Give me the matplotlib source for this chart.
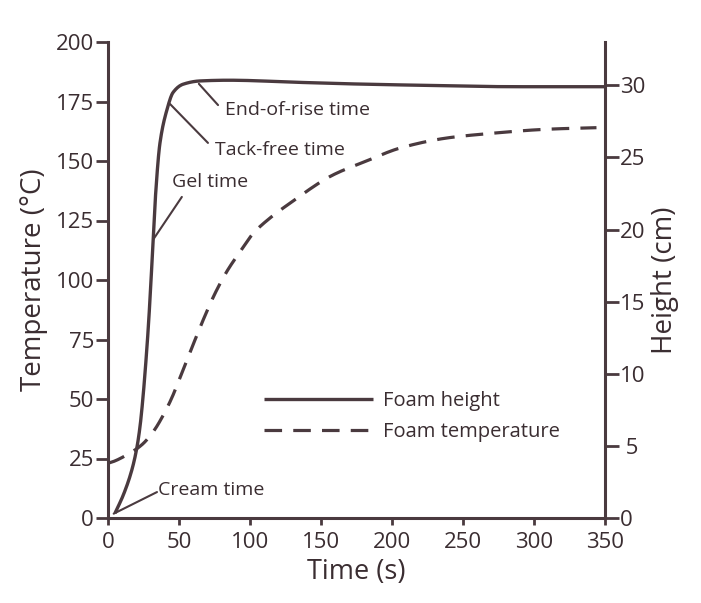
import matplotlib
matplotlib.use("Agg")
import matplotlib.pyplot as plt
import numpy as np

plt.rcParams['font.family'] = ['Open Sans', 'DejaVu Sans']

# Foam height (cm) vs time (s)
height_t = [4.9, 10.8, 16.7, 20.2, 22.5, 24.4, 26.5, 28.5, 30.2, 31.8, 33.5, 36.6, 41.5, 45.8, 52.8, 64.8, 85, 135, 170, 220, 288, 351]
height_cm = [0.33, 1.6, 3.3, 4.8, 6.3, 8.1, 10.6, 13.4, 16.3, 19.3, 22.4, 26.0, 28.3, 29.5, 30.07, 30.3, 30.35, 30.2, 30.1, 30.0, 29.9, 29.9]

# Foam temperature (°C) vs time (s)
temp_t = [0, 3.7, 13.2, 23.7, 31.9, 39, 44.8, 53, 62.4, 68.3, 75.4, 83.6, 93, 102.3, 114, 128, 158, 182, 206, 239, 264, 311, 344]
temp_c = [23, 23.7, 26.5, 30.7, 36.3, 43.3, 50.3, 62.5, 76.5, 85, 94.4, 103.5, 111.9, 119.6, 126, 132.2, 144, 150, 155.5, 159.7, 161.3, 163.4, 164]

x_ticks = [0, 50, 100, 150, 200, 250, 300, 350]
left_ticks = [0, 25, 50, 75, 100, 125, 150, 175, 200]
right_ticks = [0, 5, 10, 15, 20, 25, 30]
right_labels = ['0', ' 5', '10', '15', '20', '25', '30']

ink = '#4a3a3f'
txt = '#3a2d31'


def pchip(xs, ys, n=15):
    # monotone cubic (Fritsch-Carlson) through the read points, for a smooth drawn curve
    x = np.asarray(xs, float)
    y = np.asarray(ys, float)
    h = np.diff(x)
    d = np.diff(y) / h
    m = np.zeros_like(y)
    m[0], m[-1] = d[0], d[-1]
    for i in range(1, len(x) - 1):
        if d[i - 1] * d[i] <= 0:
            m[i] = 0
        else:
            w1 = 2 * h[i] + h[i - 1]
            w2 = h[i] + 2 * h[i - 1]
            m[i] = (w1 + w2) / (w1 / d[i - 1] + w2 / d[i])
    ox, oy = [], []
    for i in range(len(x) - 1):
        t = np.linspace(0, 1, n, endpoint=False)
        h00 = 2 * t**3 - 3 * t**2 + 1
        h10 = t**3 - 2 * t**2 + t
        h01 = -2 * t**3 + 3 * t**2
        h11 = t**3 - t**2
        ox.extend(x[i] + t * h[i])
        oy.extend(h00 * y[i] + h10 * h[i] * m[i] + h01 * y[i + 1] + h11 * h[i] * m[i + 1])
    ox.append(x[-1])
    oy.append(y[-1])
    return ox, oy


fig = plt.figure(figsize=(7.01, 6.03), dpi=100)
ax = fig.add_axes([108/701, 1-518/603, 497/701, 476/603])
ax2 = ax.twinx()

tx, ty = pchip(temp_t, temp_c)
hx, hy = pchip(height_t, height_cm)

l_temp, = ax.plot(tx, ty, color=ink, lw=2.3, ls=(0, (5.5, 3.5)), label='Foam temperature')
l_h, = ax2.plot(hx, hy, color=ink, lw=2.4, label='Foam height', solid_capstyle='butt')

ax.set_xlim(0, 350)
ax.set_ylim(0, 200)
ax2.set_ylim(0, 33)
ax.set_xticks(x_ticks)
ax.set_yticks(left_ticks)
ax2.set_yticks(right_ticks)
ax2.set_yticklabels(right_labels)

for a in (ax, ax2):
    a.spines['top'].set_visible(False)
    for s in a.spines.values():
        s.set_color(ink)
        s.set_linewidth(2.2)
ax.spines['right'].set_visible(False)
ax2.spines['left'].set_visible(False)
ax2.spines['bottom'].set_visible(False)

ax.tick_params(axis='y', direction='out', length=9, width=2, color=ink, labelsize=16, labelcolor=txt, pad=1)
ax.tick_params(axis='x', direction='out', length=5, width=2, color=ink, labelsize=16, labelcolor=txt, pad=5)
ax2.tick_params(axis='y', direction='out', length=10, width=2, color=ink, labelsize=16, labelcolor=txt, pad=1)

ax.set_xlabel('Time (s)', fontsize=19.5, color=txt, labelpad=4)
ax.set_ylabel('Temperature (°C)', fontsize=20, color=txt, labelpad=6)
ax2.set_ylabel('Height (cm)', fontsize=20, color=txt, labelpad=4)

# annotations: (label, point on height curve (t, cm), line end (t, °C), text pos (t, °C))
notes = [
    ('End-of-rise time', (64, 30.1), (77.5, 173.5), (82.4, 171.4)),
    ('Tack-free time', (43.7, 28.7), (70.4, 157.6), (75.4, 154.6)),
    ('Gel time', (31.8, 19.3), (52, 134.9), (45, 141)),
    ('Cream time', (4.0, 0.3), (34.5, 10.9), (35.2, 11.8)),
]
for label, pt, lend, tpos in notes:
    ax.annotate('', xy=pt, xycoords=ax2.transData, xytext=lend, textcoords=ax.transData,
                arrowprops=dict(arrowstyle='-', color=ink, lw=1.5, shrinkA=0, shrinkB=0))
    ax.text(tpos[0], tpos[1], label, fontsize=14, color=txt, ha='left', va='center')

leg = ax.legend([l_h, l_temp], ['Foam height', 'Foam temperature'], loc='upper left',
                bbox_to_anchor=(0.278, 0.305), frameon=False, fontsize=14.5, handlelength=5.4,
                handletextpad=0.5, labelspacing=0.55, labelcolor=txt)

fig.savefig('out.png', dpi=100)
